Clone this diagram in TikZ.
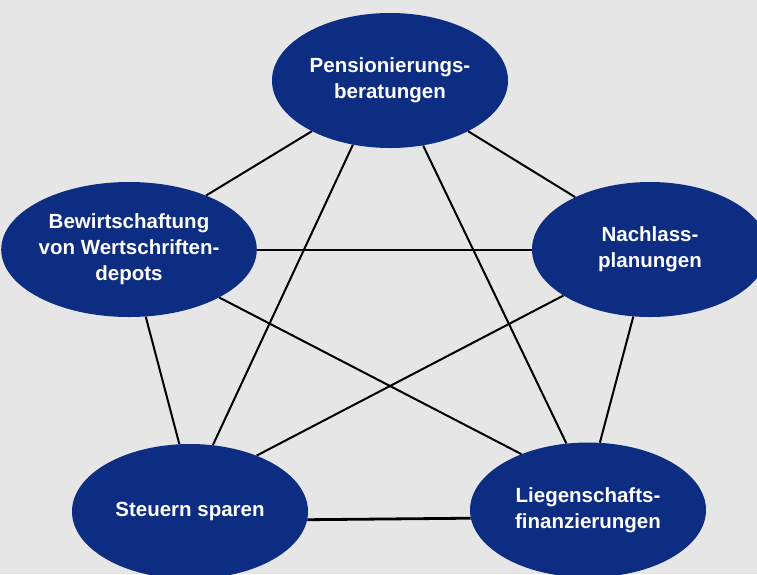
\documentclass[tikz,border=0pt]{standalone}
\usepackage{fontspec}
\setmainfont{Liberation Sans}
\usetikzlibrary{shapes.geometric}
\definecolor{bubbleblue}{RGB}{13,45,130}
\definecolor{backgray}{RGB}{230,230,230}

\begin{document}
\begin{tikzpicture}[x=1pt, y=-1pt,
    bubble/.style={ellipse, fill=bubbleblue, inner sep=0pt, minimum width=236pt, minimum height=135pt, text=white, align=center, font=\fontsize{20.5}{26}\selectfont\bfseries},
    link/.style={-, line width=2pt, black}
    ]
    \useasboundingbox[fill=backgray] (0,0) rectangle (757,574);
    % Nodes
    \node[bubble] (PB) at (390,80.5) {Pensionierungs-\\beratungen};
    \node[bubble] (BW) at (129,249.5) {Bewirtschaftung\\von Wertschriften-\\depots};
    \node[bubble] (NP) at (650,249.5) {Nachlass-\\planungen};
    \node[bubble] (SS) at (190,511.5) {Steuern sparen};
    \node[bubble] (LF) at (588,510) {Liegenschafts-\\finanzierungen};
    % Edges
    \path (PB.213) edge [link] (BW.35);
    \path (PB.327) edge [link] (NP.145.5);
    \path (PB.240.6) edge [link] (SS.71.5);
    \path (PB.297.8) edge [link] (LF.108.5);
    \path (BW.0) edge [link] (NP.180);
    \path (BW.284.2) edge [link] (SS.99.1);
    \path (BW.332.7) edge [link] (LF.140.5);
    \path (NP.208.2) edge [link] (SS.40.3);
    \path (NP.256) edge [link] (LF.80.4);
    \path (SS.356.6) edge [link, line width=2.8pt] (LF.184.2);
\end{tikzpicture}
\end{document}
